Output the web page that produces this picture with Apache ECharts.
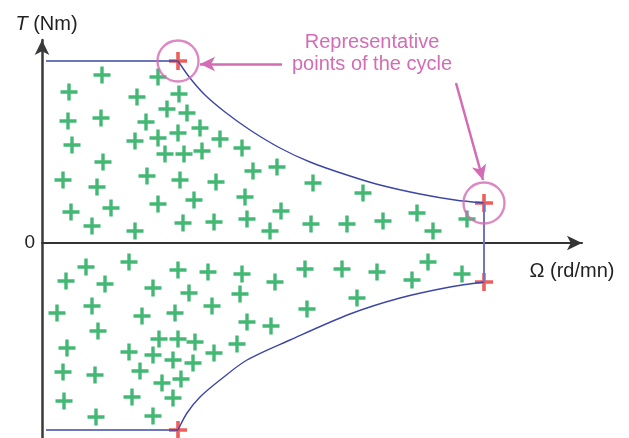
<!DOCTYPE html>
<html>
<head>
<meta charset="utf-8">
<title>Torque / speed cycle</title>
<script src="https://cdn.jsdelivr.net/npm/echarts@6/dist/echarts.min.js"></script>
<style>
html, body { margin: 0; padding: 0; background: #fff; }
#chart { width: 629px; height: 438px; }
</style>
</head>
<body>
<div id="chart"></div>
<script>
// Ω (speed) and T (torque), in the plot's own units, origin at the axes crossing
var upperPlateau = [[4, 182], [136, 182]];
var upperCurve = [[136, 182], [148, 165], [163, 148], [183, 131], [208, 113], [238, 95],
  [268, 81], [308, 67], [338, 58], [378, 49], [413, 43], [442, 40]];
var lowerPlateau = [[4, -187], [136, -187]];
var lowerCurve = [[136, -187], [145, -170], [158, -154], [178, -137], [205, -117],
  [248, -97], [308, -71], [358, -55], [408, -44], [442, -39]];
var maxSpeedEdge = [[442, 40], [442, -39]];

// red crosses: the cycle points, two of them circled
var cyclePoints = [[136, 182], [442, 40], [442, -39], [136, -187]];
var circledPoints = [[136, 182], [442, 40]];

// green crosses: operating points inside the envelope
var upperPoints = [
  [60, 168], [116, 166], [27, 151], [95, 146], [137, 149], [26, 122], [59, 125], [104, 121],
  [125, 134], [145, 130], [30, 98], [93, 102], [116, 105], [136, 110], [123, 89], [142, 89],
  [61, 81], [21, 63], [55, 56], [105, 67], [138, 63], [152, 43], [29, 31], [69, 35],
  [116, 39], [50, 17], [93, 12], [141, 20], [158, 115], [178, 104], [160, 92], [200, 95],
  [211, 72], [235, 76], [174, 61], [271, 60], [203, 46], [239, 32], [172, 21], [205, 24],
  [228, 12], [269, 19], [305, 19], [321, 50], [341, 22], [375, 30], [391, 12], [425, 24]
];
var lowerPoints = [
  [44, -24], [87, -19], [136, -27], [24, -38], [63, -41], [111, -45], [147, -50], [15, -70],
  [50, -63], [100, -73], [133, -70], [56, -88], [25, -105], [117, -96], [136, -96], [153, -99],
  [87, -109], [111, -112], [131, -117], [151, -120], [21, -129], [53, -132], [98, -128],
  [120, -140], [139, -136], [22, -158], [90, -154], [131, -155], [54, -174], [111, -173],
  [166, -29], [200, -31], [233, -39], [263, -26], [300, -26], [198, -51], [170, -63],
  [265, -66], [205, -79], [229, -83], [195, -101], [172, -110], [335, -29], [370, -37],
  [386, -19], [420, -31], [315, -55]
];

// annotation arrows, from the text to the circled points
var arrowToFirst = [[240, 179], [158, 179]];
var arrowToSecond = [[414, 160], [441, 63]];

var blue = '#3d47a5';
var pink = '#d36cb4';
var plus = 'path://M7.2,0H10.8V7.2H18V10.8H10.8V18H7.2V10.8H0V7.2H7.2Z';
var font = 'Liberation Sans, Arial, sans-serif';

function boundary(data, color, width) {
  return {
    type: 'line', data: data, symbol: 'none', z: 4, silent: true,
    lineStyle: { color: color, width: width }
  };
}

var chart = echarts.init(document.getElementById('chart'));
chart.setOption({
  animation: false,
  textStyle: { fontFamily: font },
  grid: { left: 42, right: 47, top: 40, bottom: 0 },
  xAxis: {
    type: 'value', min: 0, max: 540,
    name: 'Ω (rd/mn)', nameLocation: 'end', nameGap: -10,
    nameTextStyle: { fontSize: 20, color: '#222', align: 'center', verticalAlign: 'top', padding: [18, 0, 0, 0] },
    axisLine: { onZero: true, symbol: ['none', 'arrow'], symbolSize: [11, 15], lineStyle: { color: '#333', width: 2 } },
    axisTick: { show: false }, axisLabel: { show: false }, splitLine: { show: false }
  },
  yAxis: {
    type: 'value', min: -195, max: 203,
    name: '{i|T} (Nm)', nameLocation: 'end', nameGap: 6,
    nameTextStyle: { fontSize: 20, color: '#222', padding: [0, 0, 0, 9], rich: { i: { fontSize: 20, fontStyle: 'italic', color: '#222' } } },
    axisLine: { symbol: ['none', 'arrow'], symbolSize: [11, 15], lineStyle: { color: '#3a3a3a', width: 2.5 } },
    axisTick: { show: false },
    axisLabel: { customValues: [0], fontSize: 19, color: '#222', margin: 7 },
    splitLine: { show: false }
  },
  graphic: [{
    type: 'text', x: 372, y: 31,
    style: { text: 'Representative\npoints of the cycle', font: '20px ' + font, fill: pink, align: 'center', verticalAlign: 'top', lineHeight: 22 }
  }],
  series: [
    {
      type: 'scatter', data: upperPoints.concat(lowerPoints), symbol: plus, symbolSize: 17, z: 2, silent: true,
      itemStyle: { color: '#14a653' }
    },
    {
      type: 'scatter', data: cyclePoints, symbol: plus, symbolSize: 18, z: 3, silent: true,
      itemStyle: { color: '#ec3631' }
    },
    boundary(upperPlateau, blue, 1.4),
    Object.assign(boundary(upperCurve, blue, 1.4), { smooth: 0.3 }),
    boundary(lowerPlateau, blue, 1.4),
    Object.assign(boundary(lowerCurve, blue, 1.4), { smooth: 0.3 }),
    boundary(maxSpeedEdge, '#6e76c4', 2),
    {
      type: 'scatter', data: circledPoints, symbol: 'circle', symbolSize: 41, z: 5, silent: true,
      itemStyle: { color: 'rgba(0,0,0,0)', borderColor: pink, borderWidth: 2.4 },
      markLine: {
        silent: true, symbol: ['none', 'arrow'], symbolSize: [11, 15],
        label: { show: false },
        lineStyle: { color: pink, width: 2.5, type: 'solid' },
        data: [
          [{ coord: arrowToFirst[0] }, { coord: arrowToFirst[1] }],
          [{ coord: arrowToSecond[0] }, { coord: arrowToSecond[1] }]
        ]
      }
    }
  ]
});
</script>
</body>
</html>
